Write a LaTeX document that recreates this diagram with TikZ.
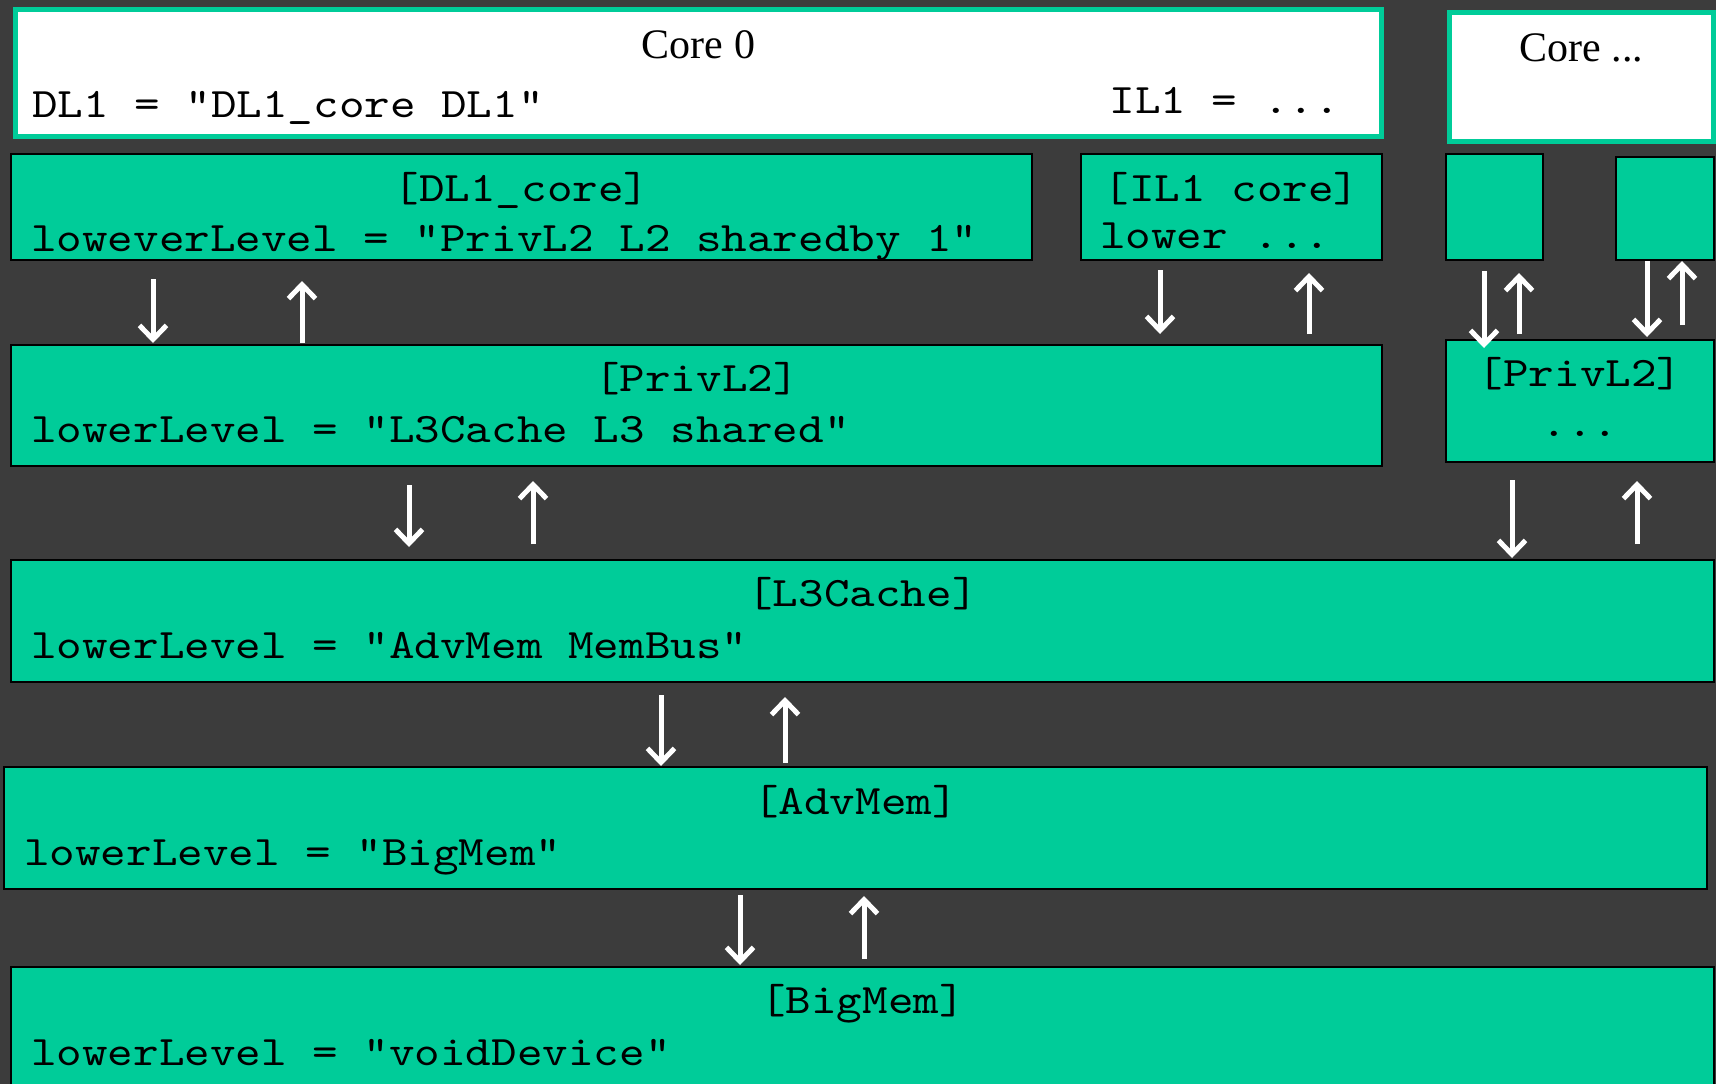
\documentclass[tikz,border=0pt]{standalone}
\usepackage{fontspec}
\setmainfont{Liberation Serif}
\setmonofont[FakeStretch=1.16]{lmmono10-regular.otf}
\usetikzlibrary{arrows.meta}
\definecolor{cacheteal}{RGB}{0,204,153}
\definecolor{slidegray}{RGB}{60,60,60}
\tikzset{
  cachebox/.style={draw=black,line width=2pt,fill=cacheteal,anchor=north west,inner sep=0pt},
  corebox/.style={draw=cacheteal,line width=5pt,fill=white,anchor=north west,inner sep=0pt},
  boxtitle/.style={anchor=base,inner sep=0pt,font=\fontsize{42}{50}\selectfont\ttfamily},
  coretitle/.style={anchor=base,inner sep=0pt,font=\fontsize{42}{50}\selectfont\rmfamily},
  boxtext/.style={anchor=base west,inner sep=0pt,font=\fontsize{42}{50}\selectfont\ttfamily},
  flow/.style={->,draw=white,line width=5pt},
}
\begin{document}
\begin{tikzpicture}[x=1pt,y=-1pt,>={Straight Barb[length=14pt,width=27pt]}]
\useasboundingbox (0,0) rectangle (1716,1084);
\fill[slidegray] (0,0) rectangle (1716,1084);

% cores
\node[corebox,minimum width=1366pt,minimum height=127pt] (core0) at (13,7) {};
\node[corebox,minimum width=264pt,minimum height=129pt] (coreN) at (1447,10) {};
\node[coretitle] (core0title) at ([yshift=-51pt]core0.north) {Core 0};
\node[coretitle] (coreNtitle) at ([yshift=-51pt]coreN.north) {Core ...};
\node[boxtext] (core0dl) at ([xshift=19pt,yshift=-110pt]core0.north west) {DL1 = "DL1\_core DL1"};
\node[boxtext,anchor=base east] (core0il) at ([xshift=-44pt,yshift=-106pt]core0.north east) {IL1 = ...};

% first level
\node[cachebox,minimum width=1021pt,minimum height=106pt] (dlone) at (10,153) {};
\node[cachebox,minimum width=301pt,minimum height=106pt] (ilone) at (1080,153) {};
\node[cachebox,minimum width=97pt,minimum height=106pt] (smallone) at (1445,153) {};
\node[cachebox,minimum width=98pt,minimum height=103pt] (smalltwo) at (1615,156) {};
\node[boxtitle] (dlonetitle) at ([yshift=-48pt]dlone.north) {[DL1\_core]};
\node[boxtext] (dlonetext) at ([xshift=21pt,yshift=-98pt]dlone.north west) {loweverLevel = "PrivL2 L2 sharedby 1"};
\node[boxtitle] (ilonetitle) at ([yshift=-48pt]ilone.north) {[IL1 core]};
\node[boxtext] (ilonetext) at ([xshift=20pt,yshift=-95pt]ilone.north west) {lower ...};

% private L2
\node[cachebox,minimum width=1371pt,minimum height=121pt] (privtwo) at (10,344) {};
\node[cachebox,minimum width=268pt,minimum height=122pt] (privtwob) at (1445,339) {};
\node[boxtitle] (privtwotitle) at ([yshift=-47pt]privtwo.north) {[PrivL2]};
\node[boxtext] (privtwotext) at ([xshift=21pt,yshift=-98pt]privtwo.north west) {lowerLevel = "L3Cache L3 shared"};
\node[boxtitle] (privtwobtitle) at ([yshift=-47pt]privtwob.north) {[PrivL2]};
\node[boxtitle] (privtwobtext) at ([yshift=-97pt]privtwob.north) {...};

% shared levels
\node[cachebox,minimum width=1703pt,minimum height=122pt] (lthree) at (10,559) {};
\node[boxtitle] (lthreetitle) at ([yshift=-47pt]lthree.north) {[L3Cache]};
\node[boxtext] (lthreetext) at ([xshift=21pt,yshift=-99pt]lthree.north west) {lowerLevel = "AdvMem MemBus"};
\node[cachebox,minimum width=1703pt,minimum height=122pt] (advmem) at (3,766) {};
\node[boxtitle] (advmemtitle) at ([yshift=-48pt]advmem.north) {[AdvMem]};
\node[boxtext] (advmemtext) at ([xshift=21pt,yshift=-99pt]advmem.north west) {lowerLevel = "BigMem"};
\node[cachebox,minimum width=1703pt,minimum height=130pt] (bigmem) at (10,966) {};
\node[boxtitle] (bigmemtitle) at ([yshift=-47pt]bigmem.north) {[BigMem]};
\node[boxtext] (bigmemtext) at ([xshift=21pt,yshift=-99pt]bigmem.north west) {lowerLevel = "voidDevice"};

% draw the connections
\draw[flow,shorten <=18pt,shorten >=1pt] ([xshift=143pt]dlone.south west) -- ([xshift=143pt]privtwo.north west);
\draw[flow,shorten <=1pt,shorten >=20pt] ([xshift=292pt]privtwo.north west) -- ([xshift=292pt]dlone.south west);
\draw[flow,shorten <=9pt,shorten >=10pt] ([xshift=80pt]ilone.south west) -- ([xshift=1150pt]privtwo.north west);
\draw[flow,shorten <=10pt,shorten >=12pt] ([xshift=1299pt]privtwo.north west) -- ([xshift=229pt]ilone.south west);
\draw[flow,shorten <=10pt,shorten >=-9pt] ([xshift=39pt]smallone.south west) -- ([xshift=39pt]privtwob.north west);
\draw[flow,shorten <=5pt,shorten >=12pt] ([xshift=74pt]privtwob.north west) -- ([xshift=74pt]smallone.south west);
\draw[flow,shorten <=0pt,shorten >=2pt] ([xshift=32pt]smalltwo.south west) -- ([xshift=202pt]privtwob.north west);
\draw[flow,shorten <=14pt,shorten >=0pt] ([xshift=237pt]privtwob.north west) -- ([xshift=67pt]smalltwo.south west);
\draw[flow,shorten <=18pt,shorten >=12pt] ([xshift=399pt]privtwo.south west) -- ([xshift=399pt]lthree.north west);
\draw[flow,shorten <=15pt,shorten >=14pt] ([xshift=523pt]lthree.north west) -- ([xshift=523pt]privtwo.south west);
\draw[flow,shorten <=17pt,shorten >=1pt] ([xshift=67pt]privtwob.south west) -- ([xshift=1502pt]lthree.north west);
\draw[flow,shorten <=15pt,shorten >=18pt] ([xshift=1627pt]lthree.north west) -- ([xshift=192pt]privtwob.south west);
\draw[flow,shorten <=12pt,shorten >=0pt] ([xshift=651pt]lthree.south west) -- ([xshift=658pt]advmem.north west);
\draw[flow,shorten <=3pt,shorten >=14pt] ([xshift=782pt]advmem.north west) -- ([xshift=775pt]lthree.south west);
\draw[flow,shorten <=5pt,shorten >=1pt] ([xshift=737pt]advmem.south west) -- ([xshift=730pt]bigmem.north west);
\draw[flow,shorten <=7pt,shorten >=6pt] ([xshift=854pt]bigmem.north west) -- ([xshift=861pt]advmem.south west);
\end{tikzpicture}
\end{document}
